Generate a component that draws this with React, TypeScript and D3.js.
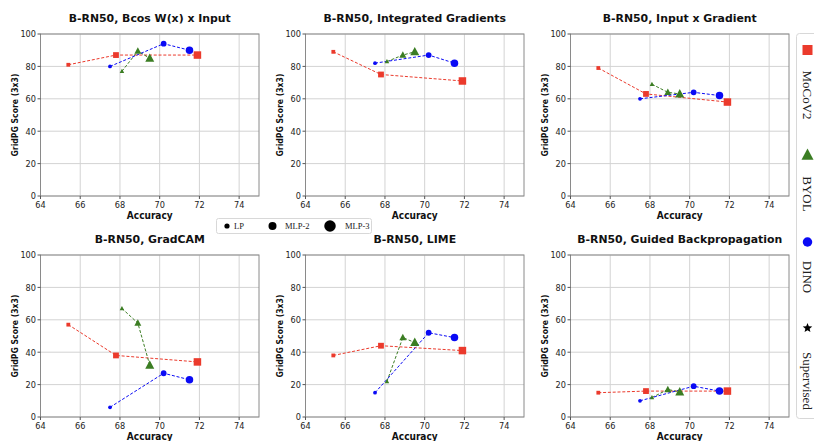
import React from "react";
import * as d3 from "d3";

const panelTitles = [
  "B-RN50, Bcos W(x) x Input",
  "B-RN50, Integrated Gradients",
  "B-RN50, Input x Gradient",
  "B-RN50, GradCAM",
  "B-RN50, LIME",
  "B-RN50, Guided Backpropagation",
];
const mocoAcc = [65.4, 67.8, 71.9];
const byolAcc = [68.1, 68.9, 69.5];
const dinoAcc = [67.5, 70.2, 71.5];
const mocoScores = [[81, 87, 87], [89, 75, 71], [79, 63, 58], [57, 38, 34], [38, 44, 41], [15, 16, 16]];
const byolScores = [[77, 89.5, 85], [83, 87, 89], [69, 64, 63], [67, 58, 32], [22, 49, 46], [12, 17, 15.5]];
const dinoScores = [[80, 94, 90], [82, 87, 82], [60, 64, 62], [6, 27, 23], [15, 52, 49], [10, 19, 16]];
const xTicks = [64, 66, 68, 70, 72, 74];
const yTicks = [0, 20, 40, 60, 80, 100];
const probeLabels = ["LP", "MLP-2", "MLP-3"];
const methodLabels = ["MoCoV2", "BYOL", "DINO", "Supervised"];

const RED = "#eb3a2c";
const GREEN = "#3b7d23";
const BLUE = "#0a0af5";
const sizes = [3.8, 5.8, 7.5];

const lefts = [40.5, 305.5, 570.5];
const tops = [34, 255];
const PW = 218.5;
const PH = 162;

function Marker({ shape, x, y, s, color }: { shape: string; x: number; y: number; s: number; color: string }) {
  if (shape === "square") {
    return <rect x={x - s / 2} y={y - s / 2} width={s} height={s} fill={color} />;
  }
  if (shape === "triangle") {
    const h = s * 1.05;
    return (
      <path
        d={`M${x},${y - h * 0.62} L${x + s * 0.6},${y + h * 0.45} L${x - s * 0.6},${y + h * 0.45} Z`}
        fill={color}
      />
    );
  }
  if (shape === "star") {
    const pts: string[] = [];
    for (let i = 0; i < 10; i++) {
      const r = i % 2 === 0 ? s / 2 : s / 4.5;
      const a = -Math.PI / 2 + (i * Math.PI) / 5;
      pts.push(`${x + r * Math.cos(a)},${y + r * Math.sin(a)}`);
    }
    return <polygon points={pts.join(" ")} fill={color} />;
  }
  return <circle cx={x} cy={y} r={s / 2} fill={color} />;
}

function Panel({ idx }: { idx: number }) {
  const col = idx % 3;
  const row = Math.floor(idx / 3);
  const x0 = lefts[col];
  const y0 = tops[row];
  const xs = d3.scaleLinear().domain([64, 75]).range([x0, x0 + PW]);
  const ys = d3.scaleLinear().domain([0, 100]).range([y0 + PH, y0]);
  const line = d3
    .line<[number, number]>()
    .x((d) => xs(d[0]))
    .y((d) => ys(d[1]));
  const series = [
    { acc: mocoAcc, sc: mocoScores[idx], color: RED, shape: "square" },
    { acc: byolAcc, sc: byolScores[idx], color: GREEN, shape: "triangle" },
    { acc: dinoAcc, sc: dinoScores[idx], color: BLUE, shape: "circle" },
  ];
  const tickFont = { fontFamily: "DejaVu Sans", fontSize: 9.4, fill: "#222" };
  return (
    <g>
      {xTicks.map((t) => (
        <line key={"gx" + t} x1={xs(t)} x2={xs(t)} y1={y0} y2={y0 + PH} stroke="#d3d3d3" strokeWidth={1} />
      ))}
      {yTicks.map((t) => (
        <line key={"gy" + t} x1={x0} x2={x0 + PW} y1={ys(t)} y2={ys(t)} stroke="#d3d3d3" strokeWidth={1} />
      ))}
      {series.map((s, i) => (
        <path
          key={"l" + i}
          d={line(s.acc.map((a, j) => [a, s.sc[j]] as [number, number])) || ""}
          fill="none"
          stroke={s.color}
          strokeWidth={1}
          strokeDasharray="3,1.8"
        />
      ))}
      {series.map((s, i) =>
        s.acc.map((a, j) => (
          <Marker key={"m" + i + j} shape={s.shape} x={xs(a)} y={ys(s.sc[j])} s={sizes[j]} color={s.color} />
        ))
      )}
      <rect x={x0} y={y0} width={PW} height={PH} fill="none" stroke="#8a8a8a" strokeWidth={1} />
      {xTicks.map((t) => (
        <g key={"tx" + t}>
          <line x1={xs(t)} x2={xs(t)} y1={y0 + PH} y2={y0 + PH + 3} stroke="#555" />
          <text
            transform={`translate(${xs(t)},${y0 + PH + 12}) scale(0.87,1)`}
            textAnchor="middle"
            {...tickFont}
          >
            {t}
          </text>
        </g>
      ))}
      {yTicks.map((t) => (
        <g key={"ty" + t}>
          <line x1={x0 - 3} x2={x0} y1={ys(t)} y2={ys(t)} stroke="#555" />
          <text transform={`translate(${x0 - 4.5},${ys(t) + 3.4}) scale(0.87,1)`} textAnchor="end" {...tickFont}>
            {t}
          </text>
        </g>
      ))}
      <text
        x={x0 + PW / 2}
        y={y0 - 12}
        textAnchor="middle"
        fontFamily="DejaVu Sans"
        fontWeight="bold"
        fontSize={10.9}
        fill="#111"
      >
        {panelTitles[idx]}
      </text>
      <text
        transform={`translate(${x0 + PW / 2},${y0 + PH + 22.5}) scale(0.93,1)`}
        textAnchor="middle"
        fontFamily="DejaVu Sans"
        fontWeight="bold"
        fontSize={9.7}
        fill="#111"
      >
        Accuracy
      </text>
      <text
        transform={`translate(${x0 - 23},${y0 + PH / 2}) rotate(-90) scale(0.86,1)`}
        textAnchor="middle"
        fontFamily="DejaVu Sans"
        fontWeight="bold"
        fontSize={9}
        fill="#111"
      >
        GridPG Score (3x3)
      </text>
    </g>
  );
}

export default function App() {
  const legendXs = [227, 272.5, 330];
  const legendSizes = [5.2, 8, 11.5];
  const legendTextXs = [234, 285, 345];
  const rightMarkers = [
    { shape: "square", color: RED, y: 50, s: 10 },
    { shape: "triangle", color: GREEN, y: 155, s: 10 },
    { shape: "circle", color: BLUE, y: 242, s: 9.5 },
    { shape: "star", color: "#000", y: 328, s: 10 },
  ];
  const rightTextY = [95, 194, 277, 381];
  return (
    <svg width={814} height={441} style={{ position: "absolute", left: 0, top: 0, background: "#fff" }}>
      <rect x={0} y={0} width={814} height={441} fill="#fff" />
      {panelTitles.map((_, i) => (
        <Panel key={i} idx={i} />
      ))}
      <rect x={216.5} y={218.5} width={155} height={15} rx={2} fill="#fff" stroke="#d8d8d8" />
      {probeLabels.map((p, i) => (
        <g key={p}>
          <Marker shape="circle" x={legendXs[i]} y={226} s={legendSizes[i]} color="#000" />
          <text x={legendTextXs[i]} y={229} fontFamily="Liberation Serif" fontSize={8.5} fill="#222">
            {p}
          </text>
        </g>
      ))}
      <rect x={796.5} y={33.5} width={30} height={385} rx={3} fill="#fff" stroke="#d8d8d8" />
      {rightMarkers.map((m, i) => (
        <g key={i}>
          <Marker shape={m.shape} x={807.5} y={m.y} s={m.s} color={m.color} />
          <text
            transform={`translate(803,${rightTextY[i]}) rotate(90)`}
            textAnchor="middle"
            fontFamily="Liberation Serif"
            fontSize={13}
            fill="#222"
          >
            {methodLabels[i]}
          </text>
        </g>
      ))}
    </svg>
  );
}
